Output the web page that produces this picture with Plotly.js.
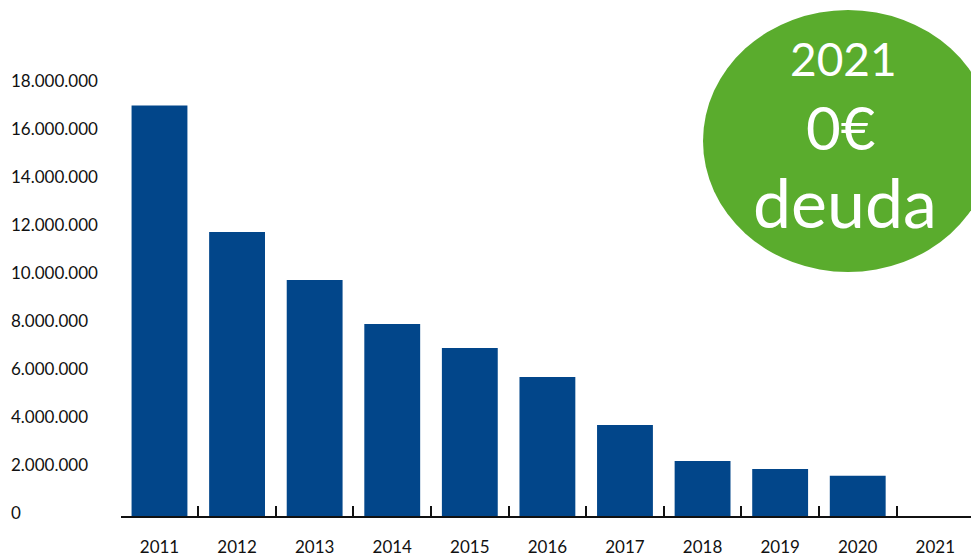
<!DOCTYPE html>
<html><head><meta charset="utf-8">
<script src="https://cdn.plot.ly/plotly-3.0.1.min.js"></script>
<style>html,body{margin:0;padding:0;background:#fff}</style>
</head><body>
<div id="chart" style="width:971px;height:556px"></div>
<script>
const years = ['2011','2012','2013','2014','2015','2016','2017','2018','2019','2020','2021'];
const debt = [17100000, 11830000, 9830000, 8000000, 7000000, 5790000, 3790000, 2290000, 1960000, 1680000, 0];
const yTicks = [0, 2000000, 4000000, 6000000, 8000000, 10000000, 12000000, 14000000, 16000000, 18000000];
const yTickText = ['0','2.000.000','4.000.000','6.000.000','8.000.000','10.000.000','12.000.000','14.000.000','16.000.000','18.000.000'];
const badgeLines = ['2021', '0€', 'deuda'];

const font = "Lato, 'Open Sans', sans-serif";
const W = 971, H = 556;

const data = [{
  type: 'bar', x: years, y: debt,
  marker: {color: '#02468a'}, width: 0.72, hoverinfo: 'skip'
}];

const px2x = p => p / W;
const px2y = p => 1 - p / 516;

const yLabelAnn = yTicks.map((v, i) => ({
  text: yTickText[i], xref: 'paper', yref: 'y', x: 9 / W, y: v, yshift: 4,
  xanchor: 'left', yanchor: 'middle', showarrow: false,
  font: {family: font, size: 17, color: '#111'}
}));

const badgeAnn = [
  {text: badgeLines[0], x: 843, y: 59, size: 46},
  {text: badgeLines[1], x: 841, y: 127, size: 60},
  {text: badgeLines[2], x: 845, y: 201, size: 68}
].map(a => ({
  text: a.text, xref: 'paper', yref: 'paper', x: px2x(a.x), y: px2y(a.y),
  xanchor: 'center', yanchor: 'middle', showarrow: false,
  font: {family: font, size: a.size, color: '#fff'}
}));

const layout = {
  width: W, height: H,
  margin: {l: 0, r: 0, t: 0, b: 40, pad: 0},
  paper_bgcolor: '#fff', plot_bgcolor: '#fff',
  showlegend: false,
  font: {family: font, size: 17, color: '#111'},
  xaxis: {
    domain: [120.7 / W, 1],
    type: 'category', range: [-0.5, 10.46],
    showline: true, linecolor: '#111', linewidth: 2,
    ticks: 'inside', tickson: 'boundaries', ticklen: 10, tickwidth: 2, tickcolor: '#111',
    showgrid: false, zeroline: false,
    ticklabelstandoff: 15,
    tickfont: {family: font, size: 17, color: '#111'}
  },
  yaxis: {
    range: [0, 21500000], showgrid: false, zeroline: false,
    showticklabels: false, ticks: '', showline: false, fixedrange: true
  },
  shapes: [{
    type: 'circle', xref: 'paper', yref: 'paper',
    x0: px2x(703), x1: px2x(993), y0: px2y(272), y1: px2y(10),
    fillcolor: '#5aac2d', line: {width: 0}, layer: 'above'
  }],
  annotations: yLabelAnn.concat(badgeAnn)
};

Plotly.newPlot('chart', data, layout, {displayModeBar: false, staticPlot: true});
</script>
</body></html>
